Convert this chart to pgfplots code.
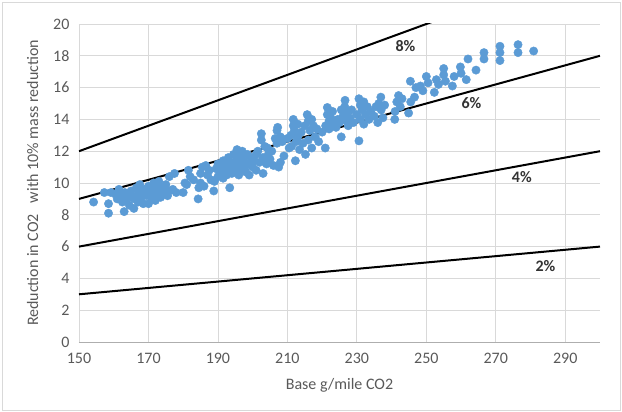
\documentclass[border=0pt]{standalone}
\usepackage{pgfplots}
\pgfplotsset{compat=1.18}
\usepackage{pgfplotstable}
\usepackage{fontspec}
\setmainfont{Carlito}
\definecolor{ptblue}{RGB}{91,155,213}
\definecolor{gridc}{RGB}{217,217,217}
\definecolor{txtc}{RGB}{89,89,89}
\pgfplotstableread{
x y
154.2 8.8
157.3 9.4
158.5 8.7
158.5 8.1
159.2 9.4
160.5 9.3
161 9.0
161.5 9.6
162 9.2
162.5 8.8
163 8.2
163.2 9.4
163.5 9.0
164 9.3
164.5 8.6
165 9.5
165 9.1
165.8 8.4
166 9.0
166.5 9.7
167 9.3
167 8.8
167.5 9.9
168 9.5
168 9.1
168.5 8.7
169 9.6
169.5 9.2
170 9.8
170 8.7
170.5 9.4
171 9.1
171.5 10.0
171.5 9.6
172 9.3
172 8.9
172.5 9.8
173 10.1
173 9.5
173.5 9.1
174 9.7
174.5 9.4
175 9.9
175.5 9.2
176 9.5
176 10.4
177 9.6
177.5 10.6
178 9.4
180 9.4
180.5 10.0
181 9.9
181.5 10.8
182 10.4
183 10.2
184.3 9.0
184.5 9.7
185 10.0
185 10.6
185.5 11.0
186 9.8
186.5 11.1
187 10.5
187.5 10.8
188 10.2
188.8 9.5
189 10.1
189.5 10.9
190 10.4
190 11.2
190.5 10.7
191 11.0
191.5 10.3
191.5 11.4
192 10.8
192 11.2
192.5 10.5
193 11.0
193 11.6
193.4 9.7
193.5 10.9
194 11.3
194 10.6
194.5 11.8
195 11.1
195 10.8
195.5 11.5
195.5 12.1
196 11.0
196 10.5
196.5 11.7
196.5 11.3
197 12.0
197 10.9
197.5 11.4
198 11.1
198 10.7
198.5 11.8
199 11.2
199 10.5
199.5 11.6
200 11.0
200.5 11.4
201 11.8
201 10.8
201.5 12.0
202 11.3
202.5 13.1
202.5 12.7
203 10.6
203 11.6
203.5 12.3
204 11.2
204.3 12.2
204.5 11.8
205 11.5
205.5 12.0
206 11.1
206.5 12.8
207 13.3
207 12.5
207.2 13.5
207.5 11.0
208 12.9
208 11.3
208.5 12.6
209 11.7
210 12.8
210.5 12.2
211 13.0
211.2 12.3
211.7 14.0
211.7 13.6
212 13.3
212.3 11.4
212.5 12.6
213 12.9
213 13.7
213.5 12.1
214 13.2
214.5 12.5
215 13.6
215.2 11.8
215.7 14.3
216 13.9
216 12.7
216.5 13.3
217 14.0
217 12.2
217.5 13.6
218 12.9
218.5 13.4
219 12.6
220 13.2
220.9 12.2
221 13.6
221.5 14.75
221.5 14.3
222 13.9
222 13.4
222.5 14.1
223 13.7
223 14.5
224 13.5
224.5 14.0
225 13.8
225.5 12.9
225.5 14.6
226 14.2
226.6 15.2
226.5 14.8
227 13.9
227 14.4
227.5 13.6
228 14.1
228.5 14.6
229 13.8
230 14.3
230.6 12.65
230.6 15.3
231 14.9
231 14.0
231.5 14.6
232 15.1
232 13.7
232.5 14.3
233 14.8
233.5 14.0
234 14.5
235 14.2
235.5 14.8
236 13.8
236.3 15.0
236.9 15.4
237 14.6
237.5 14.1
238 14.9
240.9 14.0
241 14.5
241.5 15.1
242 15.5
242.5 14.8
243 15.3
244.9 14.4
245.4 16.4
245.5 15.1
246.6 15.4
247 16.0
248.3 16.1
249 15.8
250 16.7
250.5 16.3
252.3 15.7
252.9 16.5
253.5 16.2
255 17.2
255 16.8
255.5 16.4
257.5 16.1
258 16.7
259.8 17.3
260 16.9
261.5 16.5
262 17.8
264.3 17.1
266.6 18.2
266.6 17.8
271.2 18.6
271.2 18.2
271.2 17.7
276.4 18.7
276.4 18.2
280.9 18.3
}\scatterdata
\begin{document}
\begin{tikzpicture}
\begin{axis}[
  scale only axis,
  width=521pt, height=318pt,
  xmin=150, xmax=300, ymin=0, ymax=20,
  xtick={150,170,...,290},
  ytick={0,2,...,20},
  grid=major,
  major grid style={gridc, line width=0.8pt},
  axis line style={draw=none},
  axis x line*=bottom,
  axis y line*=left,
  x axis line style={draw=gridc!80!black, line width=0.8pt},
  tick style={draw=none},
  ticklabel style={font=\fontsize{16}{18}\selectfont, text=txtc},
  xticklabel style={yshift=-8pt},
  yticklabel style={xshift=-6pt},
  /pgf/number format/assume math mode=true,
  /pgf/number format/1000 sep={},
  xlabel={Base g/mile CO2},
  ylabel={Reduction in CO2 \ \ with 10\% mass reduction},
  label style={font=\fontsize{16}{18}\selectfont, text=txtc},
  xlabel style={yshift=-8pt},
  ylabel style={yshift=8pt},
  clip=true,
]
\addplot[black, line width=2pt] coordinates {(150,3) (300,6)};
\addplot[black, line width=2pt] coordinates {(150,6) (300,12)};
\addplot[black, line width=2pt] coordinates {(150,9) (300,18)};
\addplot[black, line width=2pt] coordinates {(150,12) (300,24)};
\addplot[only marks, mark=*, mark size=4.2pt, color=ptblue, mark options={draw=ptblue, fill=ptblue}] table[x=x,y=y] {\scatterdata};
\node[font=\bfseries\fontsize{16}{18}\selectfont, text=black!80] at (axis cs:244,18.6) {8\%};
\node[font=\bfseries\fontsize{16}{18}\selectfont, text=black!80] at (axis cs:263,15.0) {6\%};
\node[font=\bfseries\fontsize{16}{18}\selectfont, text=black!80] at (axis cs:277.5,10.35) {4\%};
\node[font=\bfseries\fontsize{16}{18}\selectfont, text=black!80] at (axis cs:284.3,4.8) {2\%};
\end{axis}
\draw[gridc, line width=0.8pt] ([xshift=-77pt,yshift=-68pt]current axis.south west) rectangle ([xshift=20pt,yshift=22pt]current axis.north east);
\useasboundingbox ([xshift=-79pt,yshift=-70pt]current axis.south west) rectangle ([xshift=22pt,yshift=24pt]current axis.north east);
\end{tikzpicture}
\end{document}
